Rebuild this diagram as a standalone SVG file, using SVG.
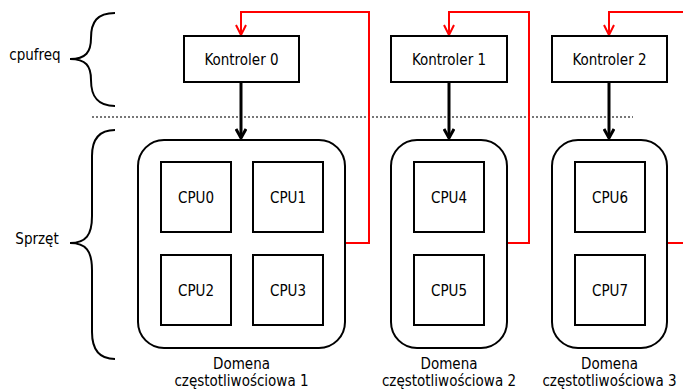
<svg xmlns="http://www.w3.org/2000/svg" width="683" height="390" viewBox="0 0 683 390">
<style>
text{font-family:"DejaVu Sans Condensed","DejaVu Sans",sans-serif;font-stretch:condensed;font-size:15px;fill:#000;text-anchor:middle}
.box{fill:#fff;stroke:#000;stroke-width:2}
.dom{fill:#fff;stroke:#000;stroke-width:2}
.brace{fill:none;stroke:#000;stroke-width:2}
.blk{fill:none;stroke:#000;stroke-width:3}
.red{fill:none;stroke:#f00;stroke-width:2}
</style>
<defs>
<marker id="ab" markerWidth="12" markerHeight="12" viewBox="0 0 12 12" refX="10" refY="6" orient="auto" markerUnits="userSpaceOnUse">
<path d="M1,1 L10,6 L1,11" fill="none" stroke="#000" stroke-width="3"/>
</marker>
<marker id="ar" markerWidth="12" markerHeight="12" viewBox="0 0 12 12" refX="11" refY="6" orient="auto" markerUnits="userSpaceOnUse">
<path d="M1,1 L11,6 L1,11" fill="none" stroke="#f00" stroke-width="2"/>
</marker>
</defs>
<g id="labels">
<path class="brace" d="M115,13 C97,13 91,22 91,38 C91,52 86,59 70,59 C86,59 91,66 91,80 C91,96 97,106 115,106"/>
<text x="35" y="60">cpufreq</text>
<path class="brace" d="M115,130 C98,130 92,140 92,156 L92,216 C92,235 86,243 70,243 C86,243 92,251 92,270 L92,332 C92,348 98,359 115,359"/>
<text x="37" y="244">Sprzęt</text>
<line x1="92" y1="117" x2="633" y2="117" stroke="#777" stroke-width="2" stroke-dasharray="2,2"/>
</g>
<g id="connectors">
<line class="blk" x1="241" y1="82" x2="241" y2="138" marker-end="url(#ab)"/>
<line class="blk" x1="449" y1="82" x2="449" y2="138" marker-end="url(#ab)"/>
<line class="blk" x1="609" y1="82" x2="609" y2="138" marker-end="url(#ab)"/>
<polyline class="red" points="345,243 369,243 369,12 241,12 241,35" marker-end="url(#ar)"/>
<polyline class="red" points="507,243 529,243 529,12 449,12 449,35" marker-end="url(#ar)"/>
<polyline class="red" points="667,243 690,243" />
<polyline class="red" points="690,12 609,12 609,35" marker-end="url(#ar)"/>
</g>
<g id="kontroler0"><rect class="box" x="184" y="36" width="115" height="46"/><text x="241.5" y="65">Kontroler 0</text></g>
<g id="kontroler1"><rect class="box" x="391" y="36" width="116" height="46"/><text x="449" y="65">Kontroler 1</text></g>
<g id="kontroler2"><rect class="box" x="552" y="36" width="115" height="46"/><text x="609.5" y="65">Kontroler 2</text></g>
<g id="domena1">
<rect class="dom" x="138" y="140" width="207" height="208" rx="26"/>
<text x="241.5" y="369">Domena</text>
<text x="241.5" y="386">częstotliwościowa 1</text>
</g>
<g id="domena2">
<rect class="dom" x="391" y="140" width="116" height="208" rx="26"/>
<text x="449" y="369">Domena</text>
<text x="449" y="386">częstotliwościowa 2</text>
</g>
<g id="domena3">
<rect class="dom" x="552" y="140" width="115" height="208" rx="26"/>
<text x="609.5" y="369">Domena</text>
<text x="609.5" y="386">częstotliwościowa 3</text>
</g>
<g id="cpu0"><rect class="box" x="161" y="162" width="70" height="70"/><text x="196" y="203">CPU0</text></g>
<g id="cpu1"><rect class="box" x="253" y="162" width="70" height="70"/><text x="288" y="203">CPU1</text></g>
<g id="cpu2"><rect class="box" x="161" y="255" width="70" height="70"/><text x="196" y="296">CPU2</text></g>
<g id="cpu3"><rect class="box" x="253" y="255" width="70" height="70"/><text x="288" y="296">CPU3</text></g>
<g id="cpu4"><rect class="box" x="414" y="162" width="70" height="70"/><text x="449" y="203">CPU4</text></g>
<g id="cpu5"><rect class="box" x="414" y="255" width="70" height="70"/><text x="449" y="296">CPU5</text></g>
<g id="cpu6"><rect class="box" x="575" y="162" width="70" height="70"/><text x="610" y="203">CPU6</text></g>
<g id="cpu7"><rect class="box" x="575" y="255" width="70" height="70"/><text x="610" y="296">CPU7</text></g>
</svg>
